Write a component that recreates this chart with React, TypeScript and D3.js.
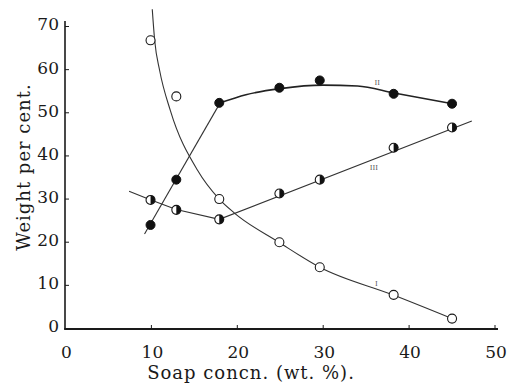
import React, { useEffect, useRef } from "react";
import * as d3 from "d3";

// soap concentration (wt. %) of the measured points
const conc = [9.9, 12.9, 17.9, 24.9, 29.6, 38.2, 45];
// weight per cent, curves I (open), II (filled), III (half filled)
const seriesI = [66.8, 53.8, 30, 20, 14.2, 7.8, 2.3];
const seriesII = [24, 34.5, 52.3, 55.8, 57.5, 54.4, 52.1];
const seriesIII = [29.8, 27.5, 25.3, 31.3, 34.5, 41.9, 46.6];

// drawn curves
const curveIx = [10.1, 10.38, 10.96, 12.21, 15.39, 17.84, 19.7, 24.84, 29.6, 38.1, 45.05];
const curveIy = [74, 66.8, 59.8, 50.5, 36.6, 30.1, 26.7, 20, 14.2, 7.8, 2.25];
const riseIIx = [9.2, 18];
const riseIIy = [21.9, 52.3];
const curveIIx = [18, 21, 25, 30, 34, 38.25, 45.05];
const curveIIy = [52.3, 54.2, 55.6, 56.4, 56.2, 54.6, 52.1];
const lineIIIx = [7.4, 9.8, 12.9, 17.9, 47.3];
const lineIIIy = [31.8, 29.9, 27.6, 25.3, 48.1];

const xTicks = [0, 10, 20, 30, 40, 50];
const yTicks = [0, 10, 20, 30, 40, 50, 60, 70];

const curveLabels = [
  { text: "I", x: 36.2, y: 10.5 },
  { text: "II", x: 36.3, y: 57 },
  { text: "III", x: 35.9, y: 37.4 },
];

const W = 513;
const H = 387;
const font = "'DejaVu Serif', serif";

const App = () => {
  const ref = useRef(null);

  useEffect(() => {
    const svg = d3.select(ref.current);
    svg.selectAll("*").remove();

    const x = d3.scaleLinear().domain([0, 50]).range([65.5, 495]);
    const y = d3.scaleLinear().domain([0, 70]).range([328.5, 26.5]);
    const ink = "#1a1a1a";

    // axes
    svg.append("line")
      .attr("x1", 65).attr("x2", 65).attr("y1", 21).attr("y2", 329.5)
      .attr("stroke", ink).attr("stroke-width", 1.6);
    svg.append("line")
      .attr("x1", 64.2).attr("x2", 498).attr("y1", 329).attr("y2", 329)
      .attr("stroke", ink).attr("stroke-width", 1.8);

    svg.selectAll("line.xt").data(xTicks.filter(d => d > 0)).enter()
      .append("line").attr("class", "xt")
      .attr("x1", d => x(d)).attr("x2", d => x(d))
      .attr("y1", 329).attr("y2", 325)
      .attr("stroke", ink).attr("stroke-width", 1);
    svg.selectAll("line.yt").data(yTicks.filter(d => d > 0)).enter()
      .append("line").attr("class", "yt")
      .attr("x1", 65).attr("x2", 69)
      .attr("y1", d => y(d)).attr("y2", d => y(d))
      .attr("stroke", ink).attr("stroke-width", 1);

    svg.selectAll("text.xl").data(xTicks).enter()
      .append("text").attr("class", "xl")
      .attr("x", d => x(d) + 1).attr("y", 357.5)
      .attr("text-anchor", "middle")
      .attr("font-family", font).attr("font-size", 17).attr("fill", ink)
      .text(d => d);
    svg.selectAll("text.yl").data(yTicks).enter()
      .append("text").attr("class", "yl")
      .attr("x", 59).attr("y", d => y(d) - 2)
      .attr("dy", "0.35em")
      .attr("text-anchor", "end")
      .attr("font-family", font).attr("font-size", 17).attr("fill", ink)
      .text(d => d);

    svg.append("text")
      .attr("x", 251).attr("y", 379)
      .attr("text-anchor", "middle")
      .attr("font-family", font).attr("font-size", 18)
      .attr("letter-spacing", 1).attr("fill", ink)
      .text("Soap concn. (wt. %).");
    svg.append("text")
      .attr("transform", "translate(30,167) rotate(-90)")
      .attr("text-anchor", "middle")
      .attr("font-family", font).attr("font-size", 18)
      .attr("letter-spacing", 1).attr("fill", ink)
      .text("Weight per cent.");

    // curves
    const straight = d3.line().x(d => x(d[0])).y(d => y(d[1]));
    const smooth = d3.line().x(d => x(d[0])).y(d => y(d[1])).curve(d3.curveMonotoneX);
    const pair = (xs, ys) => xs.map((v, i) => [v, ys[i]]);

    svg.append("path").attr("d", smooth(pair(curveIx, curveIy)))
      .attr("fill", "none").attr("stroke", "#333").attr("stroke-width", 1.1);
    svg.append("path").attr("d", straight(pair(riseIIx, riseIIy)))
      .attr("fill", "none").attr("stroke", "#333").attr("stroke-width", 1.1);
    svg.append("path").attr("d", smooth(pair(curveIIx, curveIIy)))
      .attr("fill", "none").attr("stroke", "#222").attr("stroke-width", 1.6);
    svg.append("path").attr("d", straight(pair(lineIIIx, lineIIIy)))
      .attr("fill", "none").attr("stroke", "#333").attr("stroke-width", 1.1);

    svg.selectAll("text.cl").data(curveLabels).enter()
      .append("text").attr("class", "cl")
      .attr("x", d => x(d.x)).attr("y", d => y(d.y))
      .attr("dy", "0.35em").attr("text-anchor", "middle")
      .attr("font-family", font).attr("font-size", 7).attr("fill", "#555")
      .text(d => d.text);

    // markers
    const r = 4.5;
    svg.selectAll("circle.m1").data(conc).enter()
      .append("circle").attr("class", "m1")
      .attr("cx", d => x(d)).attr("cy", (d, i) => y(seriesI[i])).attr("r", r)
      .attr("fill", "#fff").attr("stroke", ink).attr("stroke-width", 1.1);
    svg.selectAll("circle.m2").data(conc).enter()
      .append("circle").attr("class", "m2")
      .attr("cx", d => x(d)).attr("cy", (d, i) => y(seriesII[i])).attr("r", r)
      .attr("fill", "#111").attr("stroke", "#111").attr("stroke-width", 1);

    const half = d3.arc().innerRadius(0).outerRadius(r).startAngle(0).endAngle(Math.PI);
    const g3 = svg.selectAll("g.m3").data(conc).enter()
      .append("g").attr("class", "m3")
      .attr("transform", (d, i) => `translate(${x(d)},${y(seriesIII[i])})`);
    g3.append("circle").attr("r", r)
      .attr("fill", "#fff").attr("stroke", ink).attr("stroke-width", 1.1);
    g3.append("path").attr("d", half()).attr("fill", "#111");
  }, []);

  return (
    <svg
      ref={ref}
      width={W}
      height={H}
      style={{ position: "absolute", left: 0, top: 0, background: "#fff" }}
    />
  );
};

export default App;
